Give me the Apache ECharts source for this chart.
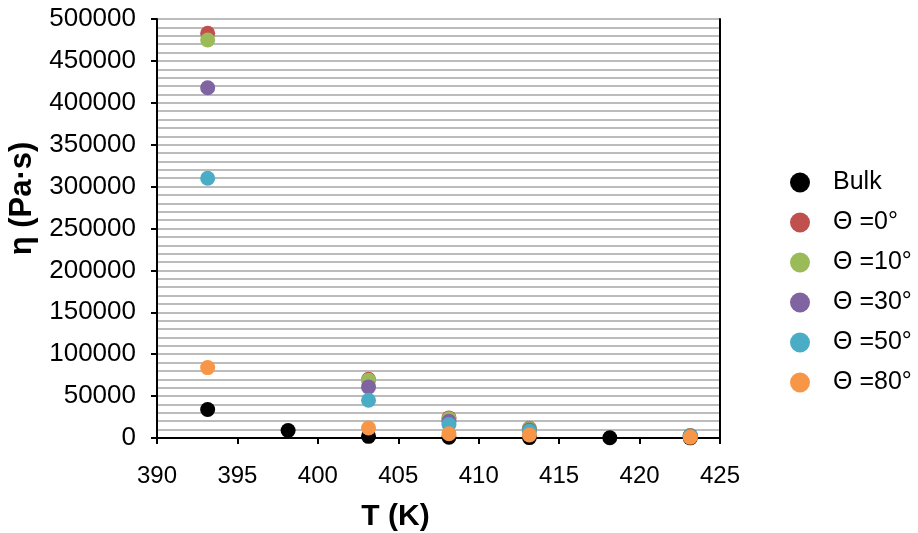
<!DOCTYPE html>
<html>
<head>
<meta charset="utf-8">
<script src="https://cdn.jsdelivr.net/npm/echarts@6/dist/echarts.min.js"></script>
<style>
  html, body { margin: 0; padding: 0; background: #fff; }
  #chart { width: 918px; height: 533px; }
</style>
</head>
<body>
<div id="chart"></div>
<script>
// temperatures (K)
var temps = [393.15, 398.15, 403.15, 408.15, 413.15, 418.15, 423.15];

// viscosity (Pa·s), null where no measurement
var bulk   = [34000, 9000, 2000, 1000, 500, 300, 200];
var theta0  = [483000, null, 70000, 24000, 11500, null, 3000];
var theta10 = [475000, null, 69000, 23000, 11000, null, 2800];
var theta30 = [418000, null, 61000, 20000, 9500, null, 2500];
var theta50 = [310000, null, 45000, 16000, 8000, null, 2000];
var theta80 = [84000, null, 12000, 5000, 3500, null, 800];

var names  = ['Bulk', 'Θ =0°', 'Θ =10°', 'Θ =30°', 'Θ =50°', 'Θ =80°'];
var values = [bulk, theta0, theta10, theta30, theta50, theta80];
var colors = ['#000000', '#c0504d', '#9bbb59', '#8064a2', '#4bacc6', '#f79646'];

function pairs(vals) {
    var out = [];
    for (var i = 0; i < temps.length; i++) {
        if (vals[i] != null) out.push([temps[i], vals[i]]);
    }
    return out;
}

var series = names.map(function (n, i) {
    return {
        name: n,
        type: 'scatter',
        symbol: 'circle',
        symbolSize: 15,
        itemStyle: { color: colors[i], opacity: 1 },
        data: pairs(values[i])
    };
});

var font = 'Liberation Sans, Arial, sans-serif';

var option = {
    animation: false,
    backgroundColor: '#fff',
    color: colors,
    grid: { left: 157, right: 198, top: 19, bottom: 95, outerBoundsMode: 'none' },
    legend: {
        orient: 'vertical',
        left: 785,
        top: 165,
        icon: 'circle',
        itemWidth: 20,
        itemHeight: 20,
        itemGap: 15.0,
        textStyle: { fontFamily: font, fontSize: 25, color: '#000', padding: [0, 0, 0, 18] },
        data: names
    },
    xAxis: {
        type: 'value',
        min: 390,
        max: 425,
        interval: 5,
        name: 'T (K)',
        nameLocation: 'middle',
        nameGap: 64,
        nameTextStyle: { fontFamily: font, fontSize: 30, fontWeight: 'bold', color: '#000', padding: [0, 86, 0, 0] },
        axisLine: { show: true, onZero: false, lineStyle: { color: '#000', width: 2 } },
        axisTick: { show: true, inside: false, length: 6, lineStyle: { color: '#000', width: 2 } },
        axisLabel: { fontFamily: font, fontSize: 24, color: '#000', margin: 26 },
        splitLine: { show: false }
    },
    yAxis: [{
        type: 'value',
        min: 0,
        max: 500000,
        interval: 50000,
        name: 'η (Pa·s)',
        nameLocation: 'middle',
        nameGap: 117,
        nameTextStyle: { fontFamily: font, fontSize: 31, fontWeight: 'bold', color: '#000', padding: [0, 0, 0, 60] },
        axisLine: { show: true, lineStyle: { color: '#000', width: 2 } },
        axisTick: { show: true, inside: false, length: 6, lineStyle: { color: '#000', width: 2 } },
        axisLabel: {
            fontFamily: font, fontSize: 26, color: '#000', margin: 21,
            formatter: function (v) { return String(v); }
        },
        splitLine: { show: true, lineStyle: { color: '#bcbcbc', width: 2 } },
        minorTick: { show: false, splitNumber: 5 },
        minorSplitLine: { show: true, lineStyle: { color: '#bcbcbc', width: 2 } }
    }, {
        type: 'value',
        position: 'right',
        min: 0,
        max: 500000,
        interval: 50000,
        axisLine: { show: true, lineStyle: { color: '#000', width: 2 } },
        axisTick: { show: false },
        axisLabel: { show: false },
        splitLine: { show: false }
    }],
    series: series
};

var myChart = echarts.init(document.getElementById('chart'));
myChart.setOption(option);
</script>
</body>
</html>
